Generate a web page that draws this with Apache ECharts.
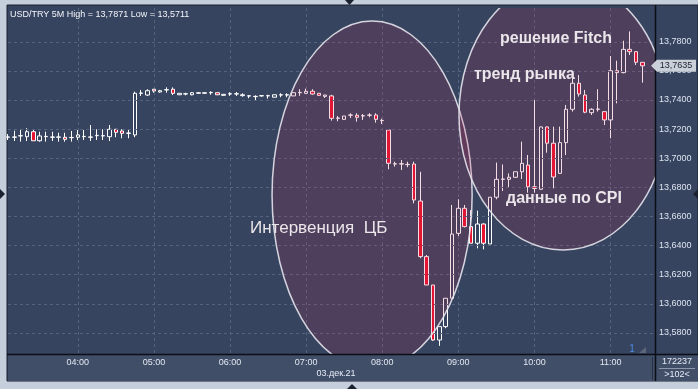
<!DOCTYPE html>
<html><head><meta charset="utf-8">
<script src="https://cdn.jsdelivr.net/npm/echarts@6/dist/echarts.min.js"></script>
<style>html,body{margin:0;padding:0;background:#c5cedb;overflow:hidden}#c{width:698px;height:389px;}</style>
</head><body><div id="c"></div><script>
const times = ['03:05','03:10','03:15','03:20','03:25','03:30','03:35','03:40','03:45','03:50','03:55',
'04:00','04:05','04:10','04:15','04:20','04:25','04:30','04:35','04:40','04:45','04:50','04:55',
'05:00','05:05','05:10','05:15','05:20','05:25','05:30','05:35','05:40','05:45','05:50','05:55',
'06:00','06:05','06:10','06:15','06:20','06:25','06:30','06:35','06:40','06:45','06:50','06:55',
'07:00','07:05','07:10','07:15','07:20','07:25','07:30','07:35','07:40','07:45','07:50','07:55',
'08:00','08:05','08:10','08:15','08:20','08:25','08:30','08:35','08:40','08:45','08:50','08:55',
'09:00','09:05','09:10','09:15','09:20','09:25','09:30','09:35','09:40','09:45','09:50','09:55',
'10:00','10:05','10:10','10:15','10:20','10:25','10:30','10:35','10:40','10:45','10:50','10:55',
'11:00','11:05','11:10','11:15','11:20','11:25','11:30','11:35'];

const opens = [13.7144,13.7144,13.7153,13.7148,13.7182,13.7120,13.7148,13.7144,13.7144,13.7144,13.7141,
13.7144,13.7148,13.7144,13.7155,13.7153,13.7148,13.7199,13.7187,13.7171,13.7160,13.7446,13.7434,
13.7474,13.7455,13.7469,13.7474,13.7436,13.7441,13.7436,13.7446,13.7446,13.7450,13.7450,13.7432,
13.7441,13.7441,13.7430,13.7427,13.7423,13.7428,13.7428,13.7419,13.7434,13.7434,13.7428,13.7450,
13.7446,13.7460,13.7446,13.7425,13.7428,13.7274,13.7267,13.7295,13.7295,13.7290,13.7295,13.7297,
13.7258,13.7194,13.6960,13.6960,13.6956,13.6960,13.6706,13.6324,13.6129,13.5751,13.5843,13.6038,
13.6484,13.6656,13.6530,13.6416,13.6548,13.6411,13.6732,13.6855,13.6855,13.6869,13.6907,13.6953,
13.6804,13.6787,13.7215,13.7103,13.6896,13.7107,13.7336,13.7515,13.7434,13.7313,13.7336,13.7320,
13.7263,13.7601,13.7588,13.7748,13.7732,13.7659];
const closes = [13.7146,13.7146,13.7155,13.7182,13.7120,13.7153,13.7150,13.7146,13.7146,13.7130,13.7143,
13.7160,13.7150,13.7146,13.7157,13.7155,13.7199,13.7178,13.7171,13.7173,13.7446,13.7448,13.7464,
13.7462,13.7464,13.7471,13.7446,13.7446,13.7443,13.7450,13.7450,13.7450,13.7452,13.7436,13.7439,
13.7443,13.7443,13.7436,13.7429,13.7425,13.7430,13.7430,13.7436,13.7436,13.7436,13.7450,13.7452,
13.7460,13.7441,13.7432,13.7434,13.7274,13.7276,13.7290,13.7297,13.7281,13.7292,13.7297,13.7267,
13.7260,13.6965,13.6962,13.6962,13.6958,13.6713,13.6324,13.6129,13.5751,13.5843,13.6038,13.6479,
13.6656,13.6530,13.6416,13.6548,13.6416,13.6732,13.6855,13.6857,13.6869,13.6907,13.6965,13.6804,
13.6792,13.7215,13.7103,13.6871,13.7107,13.7336,13.7515,13.7441,13.7316,13.7336,13.7338,13.7263,
13.7601,13.7588,13.7748,13.7732,13.7659,13.7635];
const lows = [13.7125,13.7118,13.7114,13.7118,13.7120,13.7114,13.7114,13.7118,13.7114,13.7114,13.7114,
13.7125,13.7125,13.7118,13.7125,13.7125,13.7118,13.7144,13.7137,13.7137,13.7144,13.7428,13.7428,
13.7450,13.7450,13.7450,13.7434,13.7434,13.7432,13.7432,13.7446,13.7443,13.7436,13.7434,13.7430,
13.7428,13.7428,13.7423,13.7412,13.7400,13.7423,13.7409,13.7419,13.7419,13.7419,13.7428,13.7428,
13.7441,13.7436,13.7430,13.7414,13.7258,13.7254,13.7267,13.7276,13.7251,13.7263,13.7281,13.7244,
13.7235,13.6924,13.6942,13.6919,13.6938,13.6690,13.6313,13.6129,13.5746,13.5711,13.5832,13.6038,
13.6466,13.6525,13.6416,13.6381,13.6374,13.6411,13.6718,13.6775,13.6802,13.6864,13.6857,13.6763,
13.6763,13.6782,13.7038,13.6793,13.6892,13.7022,13.7320,13.7423,13.7309,13.7297,13.7320,13.7228,
13.7137,13.7377,13.7583,13.7709,13.7640,13.7519];
const highs = [13.7166,13.7189,13.7201,13.7206,13.7199,13.7182,13.7182,13.7182,13.7175,13.7175,13.7187,
13.7194,13.7194,13.7228,13.7199,13.7199,13.7228,13.7199,13.7199,13.7199,13.7457,13.7469,13.7474,
13.7474,13.7469,13.7487,13.7487,13.7446,13.7450,13.7455,13.7455,13.7450,13.7460,13.7450,13.7441,
13.7453,13.7455,13.7446,13.7434,13.7432,13.7432,13.7436,13.7436,13.7446,13.7446,13.7450,13.7474,
13.7478,13.7474,13.7446,13.7436,13.7436,13.7290,13.7290,13.7309,13.7309,13.7304,13.7309,13.7309,
13.7272,13.7194,13.6976,13.6988,13.6976,13.6976,13.6907,13.6335,13.6129,13.5843,13.6038,13.6679,
13.6718,13.6679,13.6644,13.6640,13.6553,13.6732,13.6970,13.6957,13.6896,13.6907,13.7114,13.7022,
13.7400,13.7217,13.7217,13.7217,13.7217,13.7366,13.7594,13.7572,13.7469,13.7343,13.7474,13.7320,
13.7702,13.7670,13.7807,13.7871,13.7732,13.7659];

const yTicks = [13.58,13.60,13.62,13.64,13.66,13.68,13.70,13.72,13.74,13.76,13.78];
const yMin = 13.5655, yMax = 13.8032;
// annotation ellipses: [centre bar index, centre price, extra fraction of a bar, half-width in bars, half-height in price]
const ellipses = [[57, 13.6747, 0.4, 15.77, 0.1195],[87, 13.7297, 0.5, 16.4, 0.0927]];
const header = 'USD/TRY 5M High = 13,7871 Low = 13,5711';
const notes = [
  {text:'Интервенция  ЦБ', x:250, y:228, bold:false},
  {text:'решение Fitch', x:500, y:39, bold:true},
  {text:'тренд рынка', x:474, y:75, bold:true},
  {text:'данные по CPI', x:506, y:199, bold:true}
];
const dateLabel = '03.дек.21';
const volText = '172237', barsText = '>102<';

const FONT = '"Liberation Sans", Arial, sans-serif';
const BG = '#37445f';
const ohlc = opens.map((o,i)=>[o, closes[i], lows[i], highs[i]]);
const isHour = (idx, v) => v.slice(3) === '00';
const fmt = v => v.toFixed(4).replace('.', ',');

const chart = echarts.init(document.getElementById('c'), null, {renderer:'canvas'});
chart.setOption({
  animation:false,
  backgroundColor:'transparent',
  grid:{left:8, right:43, top:8, bottom:35, containLabel:false, outerBoundsMode:'none'},
  xAxis:{type:'category', data:times, boundaryGap:false,
    axisLine:{show:false}, axisTick:{show:false},
    axisLabel:{interval:isHour, color:'#e2e8f2', fontSize:9, fontFamily:FONT, margin:4},
    splitLine:{show:true, interval:isHour, lineStyle:{color:'#56637f', type:[3,3], width:1}}},
  yAxis:{type:'value', position:'right', min:yMin, max:yMax, splitNumber:12, scale:true,
    axisLine:{show:false}, axisTick:{show:false}, splitLine:{show:false},
    axisLabel:{color:'#dce4f0', fontSize:9, fontFamily:FONT, margin:4,
      formatter: v => { const t = yTicks.find(t => Math.abs(t - v) < 1e-6); return t !== undefined ? fmt(t) : ''; }}},
  series:[
    {type:'line', data:[], z:1, silent:true,
      markLine:{silent:true, symbol:['none','none'], label:{show:false}, animation:false,
        lineStyle:{color:'#56637f', type:[3,3], width:1},
        data: yTicks.map(v => ({yAxis:v}))}},
    {type:'candlestick', data:ohlc, barWidth:4, clip:true, z:2,
      itemStyle:{color:BG, color0:'#e8132f', borderColor:'#ffffff', borderColor0:'#ffffff', borderWidth:1}},
    {type:'custom', data:ellipses, clip:true, z:5, silent:true,
      encode:{x:0, y:1},
      renderItem:(params, api) => {
        const bw = api.size([1, 0])[0];
        const c = api.coord([api.value(0), api.value(1)]);
        const e = api.coord([api.value(0), api.value(1) + api.value(4)]);
        return {type:'ellipse', shape:{cx:c[0] + api.value(2) * bw, cy:c[1], rx:api.value(3) * bw, ry:Math.abs(e[1]-c[1])},
          style:{fill:'rgba(200,40,85,0.16)', stroke:'rgba(228,228,236,0.9)', lineWidth:1.5}};
      }}
  ]
});

const lastClose = closes[closes.length-1];
const py = chart.convertToPixel({yAxisIndex:0}, lastClose);
const txt = (t, x, y, opt) => Object.assign({type:'text', z:100, silent:true,
  style:Object.assign({text:t, x:x, y:y, fill:'#e6ecf6', font:'9px '+FONT, textAlign:'left', textVerticalAlign:'middle', verticalAlign:'middle'}, opt||{})});

const g = [
  {type:'rect', z:-10, shape:{x:7, y:5, width:691, height:376}, style:{fill:BG, stroke:'#1a2030', lineWidth:1}},
  {type:'rect', z:-9, shape:{x:8, y:354, width:690, height:27}, style:{fill:'#414e68'}},
  {type:'line', z:50, shape:{x1:7, y1:354.5, x2:698, y2:354.5}, style:{stroke:'#0b0e14', lineWidth:1.5}},
  {type:'line', z:50, shape:{x1:655.5, y1:5, x2:655.5, y2:381}, style:{stroke:'#0b0e14', lineWidth:1.5}},
  {type:'line', z:50, shape:{x1:652.5, y1:357, x2:652.5, y2:380}, style:{stroke:'#283044', lineWidth:1}},
  {type:'line', z:50, shape:{x1:659, y1:368.5, x2:695, y2:368.5}, style:{stroke:'#8d97aa', lineWidth:1}},
  txt(volText, 677, 362, {textAlign:'center'}),
  txt(barsText, 677, 375, {textAlign:'center'}),
  txt(dateLabel, 336, 374, {textAlign:'center'}),
  txt(header, 10, 15, {fill:'#f2f5fa'}),
  txt('1', 632, 349, {fill:'#4e8ce2', font:'10px '+FONT, textAlign:'center'}),
  {type:'polygon', z:50, shape:{points:[[639,353],[646,353],[646,347]]}, style:{fill:'#5d677c'}},
  {type:'polygon', z:50, shape:{points:[[345,0],[354,0],[349.5,5]]}, style:{fill:'#1c2130'}},
  {type:'polygon', z:50, shape:{points:[[0,189],[0,199],[5,194]]}, style:{fill:'#1c2130'}},
  {type:'polygon', z:50, shape:{points:[[698,189],[698,199],[693,194]]}, style:{fill:'#1c2130'}},
  {type:'polygon', z:50, shape:{points:[[347,389],[357,389],[352,384]]}, style:{fill:'#1c2130'}},
  {type:'polygon', z:60, shape:{points:[[651,py],[657,py-6],[696,py-6],[696,py+6],[657,py+6]]}, style:{fill:'#cbd0d8'}},
  txt(fmt(lastClose), 676, py, {fill:'#1b2233', textAlign:'center'})
];
notes.forEach(n => g.push(txt(n.text, n.x, n.y, {fill:'#ebe6ea', font:(n.bold?'bold 16px ':'17px ')+FONT})));
chart.setOption({graphic:g});
</script></body></html>
